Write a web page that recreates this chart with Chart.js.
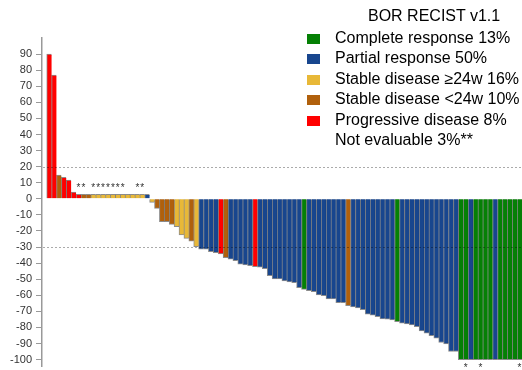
<!DOCTYPE html>
<html>
<head>
<meta charset="utf-8">
<script src="https://cdn.jsdelivr.net/npm/chart.js@4.4.0/dist/chart.umd.min.js"></script>
<style>
  html, body { margin: 0; padding: 0; background: #fff; overflow: hidden; }
  #wrap { position: relative; width: 522px; height: 370px; }
  #legend { position: absolute; left: 0; top: 0; font-family: "Liberation Sans", Arial, sans-serif; font-size: 16px; color: #000; }
  .row { position: absolute; left: 307px; height: 20px; line-height: 20px; white-space: nowrap; }
  .box { position: absolute; left: 0; top: 6px; width: 13px; height: 10px; }
  .txt { position: absolute; left: 28px; top: 0; }
  .title { position: absolute; left: 368px; line-height: 20px; white-space: nowrap; }
</style>
</head>
<body>
<div id="wrap">
  <canvas id="waterfall" width="522" height="370"></canvas>
  <div id="legend"></div>
</div>
<script>
// best overall response per patient, sorted by best % change from baseline
const bor = [
  'PD','PD','SDs','PD','PD','PD','PD','SDs','SDs',
  'SDl','SDl','SDl','SDl','SDl','SDl','SDl','SDl','SDl','SDl','SDl',
  'PR','SDl','SDs','SDs','SDs','SDs','SDl','SDl','SDl','SDs','SDl',
  'PR','PR','PR','PR','PD','SDs','PR','PR','PR','PR','PR','PD',
  'PR','PR','PR','PR','PR','PR','PR','PR','PR','CR',
  'PR','PR','PR','PR','PR','PR','PR','PR','SDs',
  'PR','PR','PR','PR','PR','PR','PR','PR','PR','CR',
  'PR','PR','PR','PR','PR','PR','PR','PR','PR','PR','PR','PR',
  'CR','CR','PR','CR','CR','CR','CR','PR','CR','CR','CR','CR','CR'
]
const values = [
  90, 77, 14.7, 13.3, 11.6, 4.2, 2.7, 2.7, 2.7,
  2.7, 2.7, 2.7, 2.7, 2.7, 2.7, 2.7, 2.7, 2.7, 2.7, 2.7,
  2.7, -2.2, -6.0, -14.3, -14.3, -15.9, -17.4, -22.5, -24.6, -26.3, -29.8,
  -31.4, -31.4, -32.9, -33.5, -34.3, -36.6, -37.5, -38.5, -40.7, -41.2, -41.6, -42.2,
  -42.6, -43.4, -47.8, -49.9, -49.9, -51.1, -51.7, -52.2, -55.3, -56.3,
  -57.1, -57.8, -59.8, -60.2, -62.3, -62.3, -64.6, -64.6, -66.5,
  -67.3, -67.9, -68.9, -71.8, -72.4, -73.3, -74.7, -74.9, -75.3, -76.4,
  -77.4, -77.8, -78.4, -79.5, -82.2, -83.6, -85.1, -86.7, -89.4, -90.2, -95, -95,
  -100, -100, -100, -100, -100, -100, -100, -100, -100, -100, -100, -100, -100
]
const topStars = [6, 7, 9, 10, 11, 12, 13, 14, 15, 18, 19]
const bottomStars = [85, 88, 96]
const refLines = [20, -30]
const yTickValues = [-100, -90, -80, -70, -60, -50, -40, -30, -20, -10, 0, 10, 20, 30, 40, 50, 60, 70, 80, 90]

const legendTitle = 'BOR RECIST v1.1'
const legendCodes = ['CR', 'PR', 'SDl', 'SDs', 'PD', 'NE']
const legendLabels = ['Complete response 13%', 'Partial response 50%', 'Stable disease \u226524w 16%',
  'Stable disease <24w 10%', 'Progressive disease 8%', 'Not evaluable 3%**']

const borColors = {
  CR: '#058005',
  PR: '#18468e',
  SDl: '#e8b838',
  SDs: '#b0600c',
  PD: '#ff0000',
  NE: null
}

function build_legend(){
  const el = document.getElementById('legend')
  const t = document.createElement('div')
  t.className = 'title'
  t.style.top = '6px'
  t.textContent = legendTitle
  el.appendChild(t)
  legendLabels.forEach((label, i) => {
    const row = document.createElement('div')
    row.className = 'row'
    row.style.top = (27.5 + i * 20.5) + 'px'
    const c = borColors[legendCodes[i]]
    if(c){
      const b = document.createElement('span')
      b.className = 'box'
      b.style.background = c
      row.appendChild(b)
    }
    const s = document.createElement('span')
    s.className = 'txt'
    s.textContent = label
    row.appendChild(s)
    el.appendChild(row)
  })
}

// dotted reference lines (+20 / -30) and the asterisk flags
const overlay = {
  id: 'overlay',
  afterDatasetsDraw(chart){
    const ctx = chart.ctx
    const xs = chart.scales.x
    const ys = chart.scales.y
    const area = chart.chartArea
    ctx.save()
    ctx.strokeStyle = 'rgba(0,0,0,0.33)'
    ctx.lineWidth = 1
    ctx.setLineDash([2, 2])
    refLines.forEach(v => {
      const py = Math.round(ys.getPixelForValue(v)) + 0.5
      ctx.beginPath()
      ctx.moveTo(area.left + 1, py)
      ctx.lineTo(area.right, py)
      ctx.stroke()
    })
    ctx.setLineDash([])
    ctx.fillStyle = '#333'
    ctx.font = '10px "Liberation Sans", Arial, sans-serif'
    ctx.textAlign = 'center'
    ctx.textBaseline = 'middle'
    topStars.forEach(i => {
      ctx.fillText('*', xs.getPixelForValue(i), ys.getPixelForValue(values[i]) - 6)
    })
    bottomStars.forEach(i => {
      ctx.fillText('*', xs.getPixelForValue(i), ys.getPixelForValue(values[i]) + 9)
    })
    ctx.restore()
  }
}

function draw_chart(){
  new Chart(document.getElementById('waterfall'), {
    type: 'bar',
    data: {
      datasets: [{
        data: values.map((v, i) => ({x: i, y: v})),
        backgroundColor: bor.map(c => borColors[c]),
        borderColor: 'rgba(0,0,0,0.45)',
        borderWidth: {left: 1, right: 0, top: 1, bottom: 1},
        borderSkipped: 'start',
        barPercentage: 1,
        categoryPercentage: 1
      }]
    },
    options: {
      responsive: false,
      animation: false,
      devicePixelRatio: 1,
      layout: { padding: { top: 38, right: 0, bottom: 0, left: 0 } },
      plugins: { legend: { display: false }, tooltip: { enabled: false } },
      scales: {
        x: {
          type: 'linear',
          min: -1.46,
          max: 96.5,
          offset: false,
          display: false,
          afterBuildTicks: s => { s.ticks = [{value: s.min}, {value: s.max}] }
        },
        y: {
          min: -104,
          max: 100,
          afterBuildTicks: s => { s.ticks = yTickValues.map(v => ({value: v})) },
          afterFit: s => { s.width = 42 },
          ticks: {
            color: '#333',
            padding: 4,
            font: { family: 'Liberation Sans', size: 11, lineHeight: 0 }
          },
          grid: { drawOnChartArea: false, drawTicks: true, tickLength: 6, tickColor: '#999', color: '#999' },
          border: { display: true, color: '#999', width: 1.5 }
        }
      }
    },
    plugins: [overlay]
  })
}

build_legend()
draw_chart()
</script>
</body>
</html>
